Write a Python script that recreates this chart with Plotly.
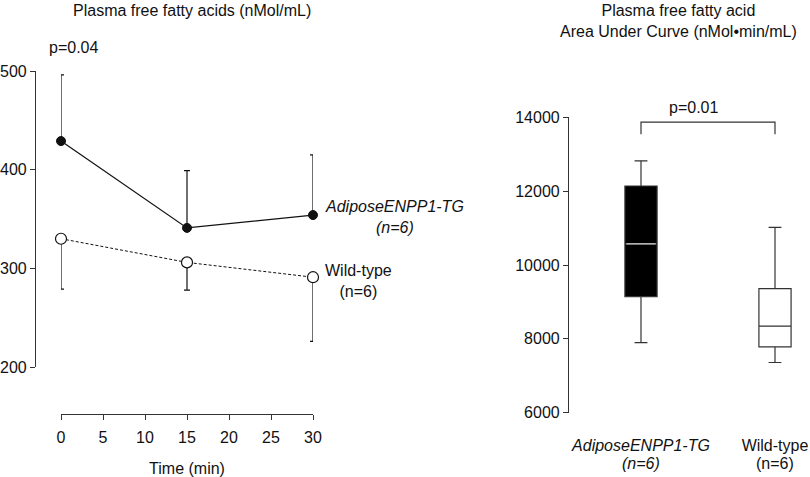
import plotly.graph_objects as go

# time course (left panel)
time_min = [0, 15, 30]
tg_mean = [429, 341, 354]
tg_upper = [496, 399, 415]
wt_mean = [330, 306, 291]
wt_lower = [279, 278, 226]

# area under curve box plot (right panel)
groups = ["AdiposeENPP1-TG", "Wild-type"]
group_names = ["<i>AdiposeENPP1-TG</i>", "Wild-type"]
group_n = ["<i>(n=6)</i>", "(n=6)"]
auc_lower = [7900, 7360]
auc_q1 = [9140, 7780]
auc_median = [10570, 8345]
auc_q3 = [12140, 9360]
auc_upper = [12820, 11020]

W, H = 810, 477
FONT = "Liberation Sans, Arial, sans-serif"
INK = "#111111"
AX = "#333333"


def px(x):
    return x / W


def py(y):
    return 1 - y / H


fig = go.Figure()

# Wild-type, error bars downwards
fig.add_trace(
    go.Scatter(
        x=time_min,
        y=wt_mean,
        mode="lines+markers",
        line=dict(color=INK, width=1, dash="3px,2px"),
        marker=dict(size=11, color="white", line=dict(color=INK, width=1.2)),
        error_y=dict(
            type="data",
            symmetric=False,
            array=[0, 0, 0],
            arrayminus=[m - l for m, l in zip(wt_mean, wt_lower)],
            color=INK,
            thickness=1.2,
            width=3,
        ),
        cliponaxis=False,
        xaxis="x",
        yaxis="y",
        showlegend=False,
    )
)

# TG, error bars upwards
fig.add_trace(
    go.Scatter(
        x=time_min,
        y=tg_mean,
        mode="lines+markers",
        line=dict(color=INK, width=1.2),
        marker=dict(size=9, color=INK, line=dict(color=INK, width=1)),
        error_y=dict(
            type="data",
            symmetric=False,
            array=[u - m for u, m in zip(tg_upper, tg_mean)],
            arrayminus=[0, 0, 0],
            color=INK,
            thickness=1.2,
            width=3,
        ),
        cliponaxis=False,
        xaxis="x",
        yaxis="y",
        showlegend=False,
    )
)

# boxes
fills = ["black", "white"]
for i, g in enumerate(groups):
    fig.add_trace(
        go.Box(
            x=[g],
            q1=[auc_q1[i]],
            median=[auc_median[i]],
            q3=[auc_q3[i]],
            lowerfence=[auc_lower[i]],
            upperfence=[auc_upper[i]],
            fillcolor=fills[i],
            line=dict(color=AX, width=1.2),
            width=0.24,
            whiskerwidth=0.4,
            xaxis="x2",
            yaxis="y2",
            showlegend=False,
            hoverinfo="skip",
        )
    )

# white median line on the black box
fig.add_trace(
    go.Box(
        x=[groups[0]],
        q1=[auc_median[0]],
        median=[auc_median[0]],
        q3=[auc_median[0]],
        lowerfence=[auc_median[0]],
        upperfence=[auc_median[0]],
        fillcolor="rgba(0,0,0,0)",
        line=dict(color="#dddddd", width=1.2),
        width=0.22,
        whiskerwidth=0,
        xaxis="x2",
        yaxis="y2",
        showlegend=False,
        hoverinfo="skip",
    )
)

# significance bracket
br_top, br_bot = 13870, 13540
fig.add_shape(
    type="path",
    path=f"M 0,{br_bot} L 0,{br_top} L 1,{br_top} L 1,{br_bot}",
    xref="x2",
    yref="y2",
    line=dict(color=AX, width=1.2),
)

axis_common = dict(
    automargin=False,
    showgrid=False,
    zeroline=False,
    showline=True,
    linecolor=AX,
    linewidth=1.2,
    ticks="outside",
    ticklen=5,
    tickwidth=1.2,
    tickcolor=AX,
    tickfont=dict(family=FONT, size=16, color=INK),
)

fig.update_layout(
    width=W,
    height=H,
    margin=dict(l=0, r=0, t=0, b=0),
    paper_bgcolor="white",
    plot_bgcolor="white",
    boxmode="overlay",
    font=dict(family=FONT, size=16, color=INK),
    xaxis=dict(
        **axis_common,
        domain=[px(61), px(313)],
        range=[0, 30],
        tickvals=[0, 5, 10, 15, 20, 25, 30],
        ticklabelstandoff=4,
        anchor="free",
        position=py(414),
        title=dict(text="Time (min)", font=dict(family=FONT, size=16, color=INK), standoff=20),
    ),
    yaxis=dict(
        **axis_common,
        domain=[py(367), py(71)],
        range=[200, 500],
        tickvals=[200, 300, 400, 500],
        anchor="free",
        position=px(35),
    ),
    xaxis2=dict(
        automargin=False,
        showgrid=False,
        zeroline=False,
        showline=False,
        ticks="",
        tickfont=dict(family=FONT, size=16, color=INK),
        domain=[px(574), px(808.5)],
        range=[-0.5, 1.25],
        tickvals=groups,
        ticktext=group_names,
        anchor="free",
        position=py(434),
    ),
    yaxis2=dict(
        **axis_common,
        domain=[py(412.7), py(117.3)],
        range=[6000, 14000],
        tickvals=[6000, 8000, 10000, 12000, 14000],
        tickformat="d",
        anchor="free",
        position=px(568),
    ),
)

# second line of the group labels, a bit tighter than a normal line break
for g, n in zip(groups, group_n):
    fig.add_annotation(
        text=n,
        x=g,
        y=py(463),
        xref="x2",
        yref="paper",
        xanchor="center",
        yanchor="middle",
        showarrow=False,
        font=dict(family=FONT, size=16, color=INK),
    )

notes = [
    ("Plasma free fatty acids (nMol/mL)", 192, 11),
    ("Plasma free fatty acid<br>Area Under Curve (nMol•min/mL)", 678, 21),
    ("p=0.04", 73, 47),
    ("p=0.01", 693, 107),
    ("<i>AdiposeENPP1-TG</i><br><i>(n=6)</i>", 394, 217),
    ("Wild-type<br>(n=6)", 358, 281),
]
for text, x, y in notes:
    fig.add_annotation(
        text=text,
        x=px(x),
        y=py(y),
        xref="paper",
        yref="paper",
        xanchor="center",
        yanchor="middle",
        showarrow=False,
        font=dict(family=FONT, size=16, color=INK),
    )

# drop the default 8px body margin so the figure fills the window
fig.write_html(
    "out.html",
    config={"displayModeBar": False},
    post_script="document.body.style.margin = '0';",
)
